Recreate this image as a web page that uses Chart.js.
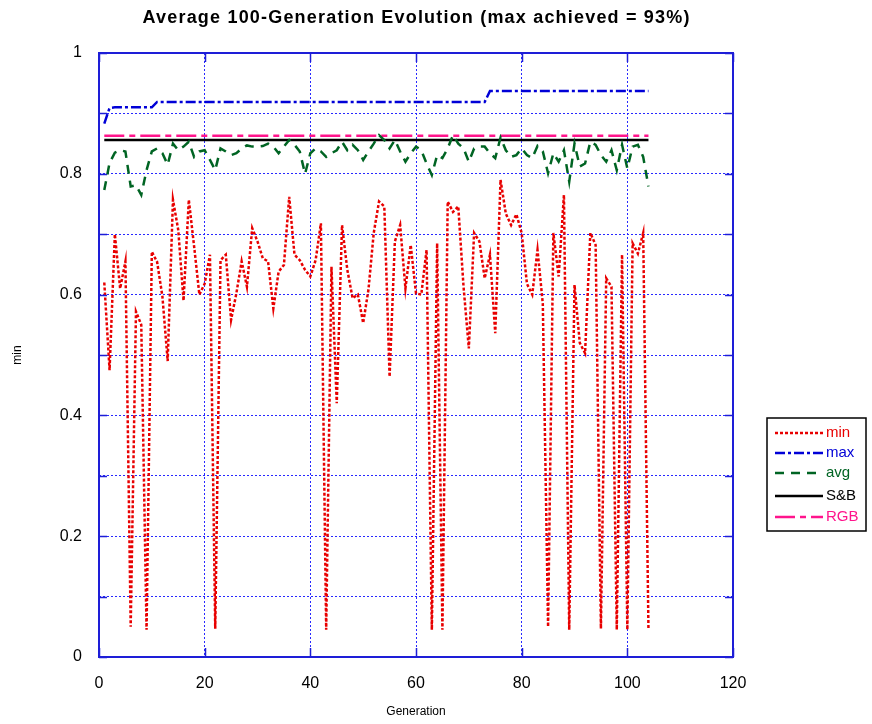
<!DOCTYPE html>
<html><head><meta charset="utf-8">
<script src="https://cdn.jsdelivr.net/npm/chart.js@4.4.0/dist/chart.umd.min.js"></script>
<style>html,body{margin:0;padding:0;background:#fff;}#wrap{width:872px;height:724px;}</style>
</head><body><div id="wrap"><canvas id="c" width="872" height="724"></canvas></div>
<script>
const chartTitle = 'Average 100-Generation Evolution (max achieved = 93%)';
const generations = [1,2,3,4,5,6,7,8,9,10,11,12,13,14,15,16,17,18,19,20,21,22,23,24,25,26,27,28,29,30,31,32,33,34,35,36,37,38,39,40,41,42,43,44,45,46,47,48,49,50,51,52,53,54,55,56,57,58,59,60,61,62,63,64,65,66,67,68,69,70,71,72,73,74,75,76,77,78,79,80,81,82,83,84,85,86,87,88,89,90,91,92,93,94,95,96,97,98,99,100,101,102,103,104];
const minValues = [0.62,0.475,0.70,0.61,0.655,0.05,0.572,0.55,0.045,0.671,0.654,0.597,0.49,0.757,0.707,0.59,0.757,0.68,0.60,0.618,0.666,0.047,0.657,0.666,0.558,0.602,0.655,0.613,0.71,0.688,0.66,0.655,0.577,0.638,0.649,0.762,0.666,0.657,0.641,0.63,0.657,0.718,0.045,0.646,0.42,0.715,0.641,0.594,0.60,0.553,0.608,0.702,0.754,0.746,0.464,0.688,0.715,0.61,0.682,0.602,0.60,0.674,0.045,0.685,0.045,0.754,0.737,0.746,0.613,0.511,0.702,0.688,0.627,0.666,0.536,0.79,0.734,0.715,0.733,0.702,0.618,0.60,0.674,0.585,0.05,0.702,0.63,0.765,0.045,0.616,0.52,0.503,0.702,0.682,0.047,0.627,0.613,0.045,0.666,0.045,0.685,0.668,0.702,0.045];
const maxValues = [0.883,0.909,0.910,0.910,0.910,0.910,0.910,0.910,0.910,0.910,0.919,0.919,0.919,0.919,0.919,0.919,0.919,0.919,0.919,0.919,0.919,0.919,0.919,0.919,0.919,0.919,0.919,0.919,0.919,0.919,0.919,0.919,0.919,0.919,0.919,0.919,0.919,0.919,0.919,0.919,0.919,0.919,0.919,0.919,0.919,0.919,0.919,0.919,0.919,0.919,0.919,0.919,0.919,0.919,0.919,0.919,0.919,0.919,0.919,0.919,0.919,0.919,0.919,0.919,0.919,0.919,0.919,0.919,0.919,0.919,0.919,0.919,0.919,0.937,0.937,0.937,0.937,0.937,0.937,0.937,0.937,0.937,0.937,0.937,0.937,0.937,0.937,0.937,0.937,0.937,0.937,0.937,0.937,0.937,0.937,0.937,0.937,0.937,0.937,0.937,0.937,0.937,0.937,0.937];
const avgValues = [0.773,0.818,0.835,0.839,0.837,0.779,0.781,0.765,0.806,0.837,0.842,0.834,0.815,0.850,0.839,0.845,0.853,0.828,0.837,0.839,0.823,0.806,0.842,0.837,0.831,0.834,0.842,0.847,0.845,0.845,0.846,0.850,0.845,0.834,0.845,0.856,0.848,0.837,0.800,0.834,0.842,0.837,0.828,0.834,0.839,0.853,0.839,0.848,0.839,0.823,0.837,0.850,0.864,0.856,0.842,0.856,0.837,0.820,0.834,0.845,0.839,0.817,0.798,0.831,0.826,0.842,0.864,0.850,0.842,0.820,0.842,0.845,0.845,0.834,0.826,0.860,0.839,0.828,0.831,0.842,0.831,0.826,0.846,0.837,0.801,0.834,0.820,0.839,0.787,0.850,0.812,0.817,0.853,0.848,0.831,0.820,0.839,0.806,0.848,0.809,0.845,0.848,0.828,0.779];
const sbValue = 0.856;
const rgbValue = 0.863;
const xTicks = [0,20,40,60,80,100,120];
const yLabelled = [0,0.2,0.4,0.6,0.8,1];

const FONT = "'Liberation Sans', Arial, sans-serif";
const frameColor = 'rgb(30,30,215)';
const gridColor = 'rgb(40,40,255)';

function pts(vals){ return vals.map((v,i)=>({x:generations[i], y:v})); }
const first = generations[0], last = generations[generations.length-1];

const seriesStyles = [
  {label:'min', color:'rgb(232,0,0)', dash:[3,2]},
  {label:'max', color:'rgb(0,0,215)', dash:[10,3,3,3]},
  {label:'avg', color:'rgb(0,100,35)', dash:[9,7]},
  {label:'S&B', color:'#000000', dash:[]},
  {label:'RGB', color:'rgb(255,20,140)', dash:[20,5,6,5]}
];
const seriesData = [pts(minValues), pts(maxValues), pts(avgValues),
  [{x:first,y:sbValue},{x:last,y:sbValue}], [{x:first,y:rgbValue},{x:last,y:rgbValue}]];

const frameAndLegend = {
  id:'frameAndLegend',
  afterDraw(chart){
    const ctx = chart.ctx; const {left,right,top,bottom} = chart.chartArea;
    ctx.save();
    // title
    ctx.font = "bold 18px " + FONT; ctx.fillStyle = '#000'; ctx.textAlign = 'center'; ctx.textBaseline = 'middle';
    const natural = ctx.measureText(chartTitle).width;
    const ls = Math.max(0, (548 - natural) / chartTitle.length);
    ctx.letterSpacing = ls.toFixed(2) + 'px';
    ctx.fillText(chartTitle, (left+right)/2 + ls/2, 18);
    ctx.letterSpacing = '0px';
    // frame
    ctx.strokeStyle = frameColor; ctx.lineWidth = 2; ctx.setLineDash([]);
    ctx.strokeRect(left, top, right-left, bottom-top);
    ctx.lineWidth = 1.5;
    const ys = chart.scales.y, xs = chart.scales.x;
    ctx.beginPath();
    ys.ticks.forEach(t=>{ const p = Math.round(ys.getPixelForValue(t.value))+0.5; ctx.moveTo(left,p); ctx.lineTo(left+8,p); ctx.moveTo(right-8,p); ctx.lineTo(right,p); });
    xs.ticks.forEach(t=>{ const p = Math.round(xs.getPixelForValue(t.value))+0.5; ctx.moveTo(p,bottom); ctx.lineTo(p,bottom-9); ctx.moveTo(p,top); ctx.lineTo(p,top+9); });
    ctx.stroke();
    // legend
    const bx = 767, by = 418, bw = 99, bh = 113;
    ctx.lineWidth = 1.5; ctx.strokeStyle = '#000';
    ctx.strokeRect(bx, by, bw, bh);
    ctx.font = "15px " + FONT; ctx.textBaseline = 'middle'; ctx.textAlign = 'left';
    const rows = [433, 453, 473, 496, 517];
    chart.data.datasets.forEach((ds,i)=>{
      const y = rows[i];
      ctx.strokeStyle = ds.borderColor; ctx.lineWidth = 2.5; ctx.setLineDash(ds.borderDash||[]);
      ctx.beginPath(); ctx.moveTo(775,y); ctx.lineTo(823,y); ctx.stroke();
      ctx.setLineDash([]);
      ctx.fillStyle = ds.borderColor; ctx.fillText(ds.label, 826, y);
    });
    ctx.restore();
  }
};

new Chart(document.getElementById('c'), {
  type:'line',
  data:{ datasets: seriesStyles.map((s,i)=>({
    label:s.label, data:seriesData[i], borderColor:s.color, backgroundColor:s.color,
    borderWidth:2.5, borderDash:s.dash, pointRadius:0, tension:0, fill:false
  }))},
  options:{
    responsive:false, animation:false, devicePixelRatio:1,
    layout:{padding:{left:0,right:139,top:53,bottom:0}},
    plugins:{ legend:{display:false}, tooltip:{enabled:false}, title:{display:false} },
    scales:{
      x:{type:'linear', min:0, max:120,
        afterBuildTicks(s){ s.ticks = xTicks.map(v=>({value:v})); },
        ticks:{color:'#000', font:{family:FONT,size:16}, padding:17, maxRotation:0, autoSkip:false},
        grid:{color:gridColor, lineWidth:1, drawTicks:false},
        border:{display:false, dash:[2,2]},
        title:{display:true, text:'Generation', color:'#000', font:{family:FONT,size:12}, padding:{top:0,bottom:5}},
        afterFit(s){ s.height = 67; }
      },
      y:{type:'linear', min:0, max:1,
        ticks:{stepSize:0.1, color:'#000', font:{family:FONT,size:16}, padding:17, autoSkip:false,
          callback(v){ const k = Math.round(v*10); return yLabelled.some(l=>Math.round(l*10)===k) ? String(k/10) : ''; }},
        grid:{color:gridColor, lineWidth:1, drawTicks:false},
        border:{display:false, dash:[2,2]},
        title:{display:true, text:'min', color:'#000', font:{family:FONT,size:12}, padding:{top:10,bottom:0}},
        afterFit(s){ s.width = 99; }
      }
    }
  },
  plugins:[frameAndLegend]
});
</script></body></html>
